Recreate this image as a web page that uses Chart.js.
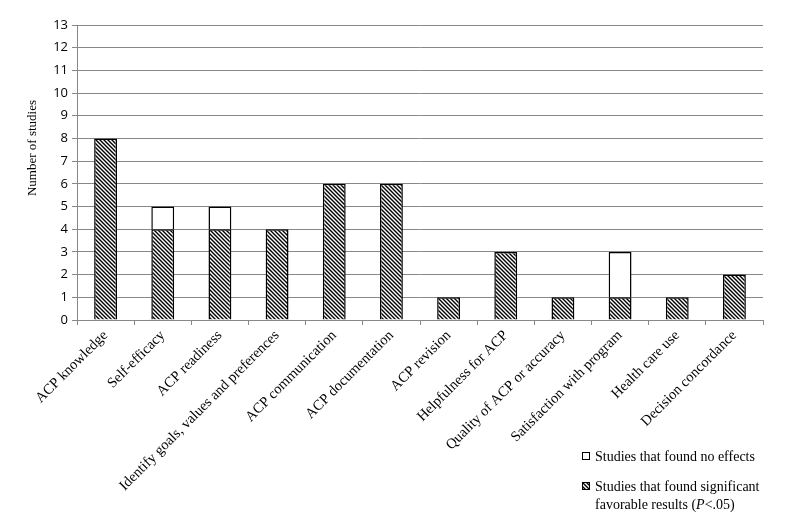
<!DOCTYPE html>
<html>
<head>
<meta charset="utf-8">
<script src="https://cdn.jsdelivr.net/npm/chart.js@4"></script>
<style>
  html, body { margin: 0; padding: 0; background: #fff; }
  #wrap { position: relative; width: 797px; height: 517px; }
  #legend { position: absolute; left: 582px; top: 448px; font-family: 'Liberation Serif', serif; font-size: 14px; color: #000; line-height: 18px; }
  #legend .row { position: relative; padding-left: 13px; }
  #legend .box { position: absolute; left: 0; top: 4px; width: 8px; height: 8px; border: 1px solid #000; box-sizing: border-box; }
</style>
</head>
<body>
<div id="wrap">
  <canvas id="chart" width="797" height="517"></canvas>
  <div id="legend">
    <div class="row"><span class="box" style="background:#fff"></span>Studies that found no effects</div>
    <div class="row" style="margin-top:12px"><span class="box" id="hatchBox"></span>Studies that found significant<br>favorable results (<i>P</i>&lt;.05)</div>
  </div>
</div>
<script>
const categories = [
  'ACP knowledge',
  'Self-efficacy',
  'ACP readiness',
  'Identify goals, values and preferences',
  'ACP communication',
  'ACP documentation',
  'ACP revision',
  'Helpfulness for ACP',
  'Quality of ACP or accuracy',
  'Satisfaction with program',
  'Health care use',
  'Decision concordance',
]
const significant = [8, 4, 4, 4, 6, 6, 1, 3, 1, 1, 1, 2]
const noEffects = [0, 1, 1, 0, 0, 0, 0, 0, 0, 2, 0, 0]
const yTicks = [0, 1, 2, 3, 4, 5, 6, 7, 8, 9, 10, 11, 12, 13]
const yTitle = 'Number of studies'

// diagonal hatch (top-left to bottom-right)
const makeHatch = () => {
  const c = document.createElement('canvas')
  c.width = 4
  c.height = 4
  const g = c.getContext('2d')
  g.fillStyle = '#fff'
  g.fillRect(0, 0, 4, 4)
  g.strokeStyle = '#000'
  g.lineWidth = 1.4
  g.beginPath()
  g.moveTo(-1, -1); g.lineTo(5, 5)
  g.moveTo(-1, 3); g.lineTo(1, 5)
  g.moveTo(3, -1); g.lineTo(5, 1)
  g.stroke()
  return c
}
const tile = makeHatch()
const ctx = document.getElementById('chart').getContext('2d')
const hatch = ctx.createPattern(tile, 'repeat')
document.getElementById('hatchBox').style.background = `url(${tile.toDataURL()})`

const serif = "'Liberation Serif', serif"
const sans = "'Open Sans', sans-serif"

// y title sits a little above the middle, like the original
const yTitlePlugin = {
  id: 'yTitle',
  afterDraw: (chart) => {
    const c = chart.ctx
    c.save()
    c.translate(33, 148)
    c.rotate(-Math.PI / 2)
    c.font = `13px ${serif}`
    c.fillStyle = '#000'
    c.textAlign = 'center'
    c.textBaseline = 'middle'
    c.fillText(yTitle, 0, 0)
    c.restore()
  },
}

new Chart(ctx, {
  type: 'bar',
  data: {
    labels: categories,
    datasets: [
      {
        label: 'Studies that found significant favorable results (P<.05)',
        data: significant,
        backgroundColor: hatch,
        borderColor: '#000',
        borderWidth: 1.5,
        barPercentage: 0.4,
        categoryPercentage: 1,
      },
      {
        label: 'Studies that found no effects',
        data: noEffects,
        backgroundColor: '#fff',
        borderColor: '#000',
        borderWidth: 1.5,
        barPercentage: 0.4,
        categoryPercentage: 1,
      },
    ],
  },
  plugins: [yTitlePlugin],
  options: {
    responsive: false,
    animation: false,
    layout: { padding: { top: 25, right: 34, left: 0, bottom: 0 } },
    plugins: {
      legend: { display: false },
      tooltip: { enabled: false },
    },
    scales: {
      x: {
        stacked: true,
        grid: { display: true, drawOnChartArea: false, offset: true, color: '#888', tickLength: 5 },
        border: { color: '#888' },
        ticks: {
          color: '#000',
          font: { family: serif, size: 14.5 },
          minRotation: 45,
          maxRotation: 45,
          autoSkip: false,
          padding: 2,
        },
        afterFit: (scale) => { scale.height = 197 },
      },
      y: {
        stacked: true,
        min: 0,
        max: 13,
        afterBuildTicks: (scale) => { scale.ticks = yTicks.map((v) => ({ value: v })) },
        grid: { color: '#888', tickLength: 5 },
        border: { color: '#888' },
        ticks: { color: '#000', font: { family: sans, size: 13 }, padding: 4 },
        afterFit: (scale) => { scale.width = 77 },
      },
    },
  },
})
</script>
</body>
</html>
